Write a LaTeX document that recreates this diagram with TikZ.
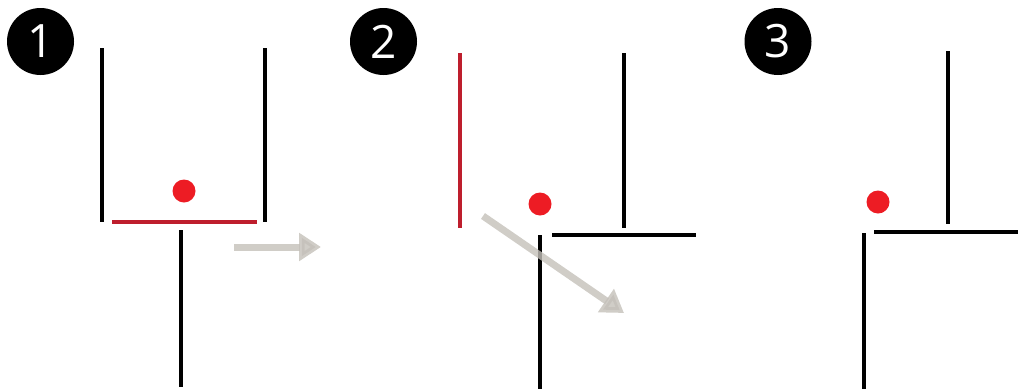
\documentclass[tikz,border=0pt]{standalone}
\usepackage{fontspec}
\setsansfont{Open Sans}
\usepackage{tikz}
\usetikzlibrary{arrows.meta}
\definecolor{wallred}{RGB}{190,30,45}
\definecolor{dotred}{RGB}{237,28,36}
\definecolor{movegray}{RGB}{196,192,185}
\tikzset{
  % a step number
  num/.style   = {circle, fill=black, text=white, minimum size=67pt,
                  inner sep=0pt, font=\sffamily\fontsize{46}{46}\selectfont},
  % a wall segment
  wall/.style  = {line width=3.2pt, black},
  % the wall that moves away
  gone/.style  = {line width=3.2pt, wallred},
  % the ball
  ball/.style  = {circle, fill=dotred, minimum size=23pt, inner sep=0pt},
  % the movement arrow
  mv/.style    = {-{Triangle[length=22pt,width=27pt]}, line width=7pt,
                  movegray, opacity=0.8},
}
\begin{document}
\begin{tikzpicture}[x=1pt, y=-1pt]
  \useasboundingbox (0,0) rectangle (1022,389);
  % --- one: closed box ---
  \node[num]  (n1) at (40.5,41.5) {1};
  \draw[wall] (102,48) -- (102,222);
  \draw[wall] (265,48) -- (265,222);
  \draw[gone] (112,222) -- (257,222);
  \draw[wall] (181,230) -- (181,387);
  \node[ball] (b1) at (184,191) {};
  \coordinate (m1s) at (234,247);
  \coordinate (m1e) at (321,247);
  \draw[mv] (m1s) -- (m1e);
  % --- two: wall swings out ---
  \node[num]  (n2) at (383.5,41.5) {2};
  \draw[gone] (460,53) -- (460,228);
  \draw[wall] (624,53) -- (624,228);
  \draw[wall] (552,235) -- (696,235);
  \draw[wall] (540,235) -- (540,389);
  \node[ball] (b2) at (540,204) {};
  \coordinate (m2s) at (483,216);
  \coordinate (m2e) at (624,313);
  \draw[mv] (m2s) -- (m2e);
  % --- three: open ---
  \node[num]  (n3) at (778,41.5) {3};
  \draw[wall] (948,51) -- (948,224);
  \draw[wall] (874,232) -- (1018,232);
  \draw[wall] (864,233) -- (864,389);
  \node[ball] (b3) at (878,202) {};
\end{tikzpicture}
\end{document}
